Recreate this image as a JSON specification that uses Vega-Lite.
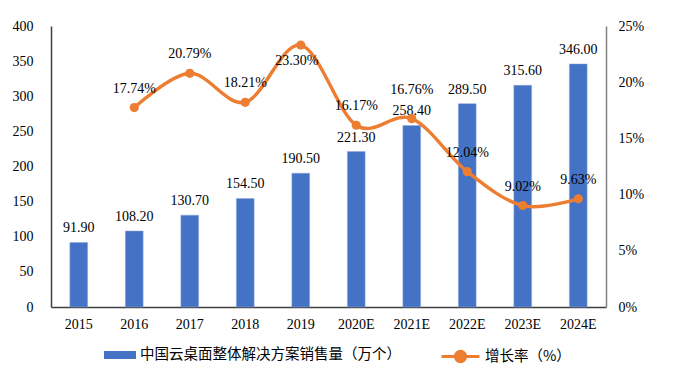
{
  "$schema": "https://vega.github.io/schema/vega-lite/v6.json",
  "autosize": "none",
  "width": 555,
  "height": 281,
  "padding": {"left": 51, "top": 26, "right": 74, "bottom": 58},
  "background": "white",
  "config": {
    "view": {"stroke": null},
    "font": "Liberation Serif",
    "axis": {"grid": false, "ticks": false, "labelFont": "Liberation Serif", "labelFontSize": 14, "labelColor": "#000000", "title": null, "labelOverlap": false}
  },
  "data": {"values": [
    {"year": "2015", "sales": 91.9, "growth": null},
    {"year": "2016", "sales": 108.2, "growth": 0.1774},
    {"year": "2017", "sales": 130.7, "growth": 0.2079},
    {"year": "2018", "sales": 154.5, "growth": 0.1821},
    {"year": "2019", "sales": 190.5, "growth": 0.2330},
    {"year": "2020E", "sales": 221.3, "growth": 0.1617},
    {"year": "2021E", "sales": 258.4, "growth": 0.1676},
    {"year": "2022E", "sales": 289.5, "growth": 0.1204},
    {"year": "2023E", "sales": 315.6, "growth": 0.0902},
    {"year": "2024E", "sales": 346.0, "growth": 0.0963}
  ]},
  "encoding": {
    "x": {"field": "year", "type": "nominal", "sort": null,
      "scale": {"paddingInner": 0.68, "paddingOuter": 0.34},
      "axis": {"labelAngle": 0, "labelPadding": 10, "domainColor": "#404040", "domainWidth": 1.5}}
  },
  "layer": [
    {
      "encoding": {
        "y": {"field": "sales", "type": "quantitative",
          "scale": {"domain": [0, 400], "nice": false},
          "axis": {"values": [0, 50, 100, 150, 200, 250, 300, 350, 400], "labelOverlap": false, "labelFontSize": 14, "labelPadding": 18, "domainColor": "#404040", "domainWidth": 1.5}}
      },
      "layer": [
        {
          "mark": {"type": "bar", "stroke": "#8fa9dc", "strokeWidth": 0.5},
          "encoding": {
            "color": {"datum": "中国云桌面整体解决方案销售量（万个）", "type": "nominal",
              "scale": {"range": ["#4472C4"]},
              "legend": {"orient": "none", "legendX": 53, "legendY": 313, "title": null,
                "symbolType": "M-1,-0.25H1V0.25H-1Z", "symbolSize": 1024, "symbolStrokeWidth": 0,
                "labelFont": "Noto Sans CJK SC", "labelFontSize": 14.5, "labelLimit": 0, "labelColor": "#000000", "labelOffset": 4}}
          }
        },
        {
          "mark": {"type": "text", "baseline": "bottom", "dy": -7, "fontSize": 14, "font": "Liberation Serif", "color": "#000000"},
          "encoding": {
            "text": {"field": "sales", "type": "quantitative", "format": ".2f"}
          }
        }
      ]
    },
    {
      "transform": [{"filter": "datum.growth != null"}],
      "encoding": {
        "y": {"field": "growth", "type": "quantitative",
          "scale": {"domain": [0, 0.25]},
          "axis": {"orient": "right", "format": ".0%", "values": [0, 0.05, 0.1, 0.15, 0.2, 0.25], "labelPadding": 12, "domainColor": "#808080", "domainWidth": 1.5}}
      },
      "layer": [
        {
          "mark": {"type": "line", "interpolate": "cardinal", "tension": 0, "strokeWidth": 3.4},
          "encoding": {
            "stroke": {"datum": "增长率（%）", "type": "nominal",
              "scale": {"range": ["#ED7D31"]},
              "legend": {"orient": "none", "legendX": 389, "legendY": 310, "title": null,
                "symbolType": "M-1,0H1M0.27,0A0.27,0.27 0 1 1 -0.27,0A0.27,0.27 0 1 1 0.27,0Z", "symbolSize": 1444,
                "symbolStrokeWidth": 3, "symbolFillColor": "#ED7D31",
                "labelFont": "Noto Sans CJK SC", "labelFontSize": 14.5, "labelLimit": 0, "labelColor": "#000000", "labelOffset": 4}}
          }
        },
        {
          "mark": {"type": "point", "filled": true, "size": 85, "color": "#ED7D31", "opacity": 1}
        },
        {
          "transform": [{"filter": "datum.year !== '2019' && datum.year !== '2021E'"}],
          "mark": {"type": "text", "baseline": "middle", "dy": -19, "fontSize": 14, "font": "Liberation Serif", "color": "#000000"},
          "encoding": {"text": {"field": "growth", "type": "quantitative", "format": ".2%"}}
        },
        {
          "transform": [{"filter": "datum.year === '2019'"}],
          "mark": {"type": "text", "baseline": "middle", "dy": 16, "dx": -4, "fontSize": 14, "font": "Liberation Serif", "color": "#000000"},
          "encoding": {"text": {"field": "growth", "type": "quantitative", "format": ".2%"}}
        },
        {
          "transform": [{"filter": "datum.year === '2021E'"}],
          "mark": {"type": "text", "baseline": "middle", "dy": -29, "fontSize": 14, "font": "Liberation Serif", "color": "#000000"},
          "encoding": {"text": {"field": "growth", "type": "quantitative", "format": ".2%"}}
        }
      ]
    }
  ],
  "resolve": {"scale": {"y": "independent", "color": "independent", "stroke": "independent"}, "legend": {"color": "independent", "stroke": "independent"}}
}
